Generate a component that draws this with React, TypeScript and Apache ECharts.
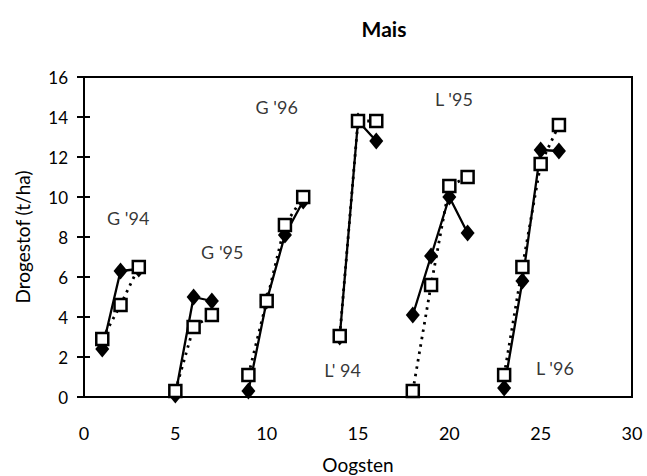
import React, { useEffect, useRef } from "react";
import * as echarts from "echarts";

// Harvest numbers (x) per group
const g94X = [1, 2, 3];
const g94Diamond = [2.4, 6.3, 6.4];
const g94Square = [2.9, 4.6, 6.5];

const g95X = [5, 6, 7];
const g95Diamond = [0.1, 5.0, 4.8];
const g95Square = [0.3, 3.5, 4.1];

const g96X = [9, 10, 11, 12];
const g96Diamond = [0.3, 4.8, 8.1, 9.8];
const g96Square = [1.1, 4.8, 8.6, 10.0];

const l94X = [14, 15, 16];
const l94Diamond = [3.0, 13.8, 12.8];
const l94Square = [3.05, 13.8, 13.8];

const l95X = [18, 19, 20, 21];
const l95Diamond = [4.1, 7.05, 10.0, 8.2];
const l95Square = [0.3, 5.6, 10.55, 11.0];

const l96X = [23, 24, 25, 26];
const l96Diamond = [0.45, 5.8, 12.35, 12.3];
const l96Square = [1.1, 6.5, 11.65, 13.6];

const groupLabels = ["G '94", "G '95", "G '96", "L' 94", "L '95", "L '96"];
const labelX = [2.42, 7.57, 10.55, 14.16, 20.25, 25.78];
const labelY = [8.93, 7.27, 14.5, 1.35, 14.9, 1.43];

const xTicks = [0, 5, 10, 15, 20, 25, 30];
const yTicks = [0, 2, 4, 6, 8, 10, 12, 14, 16];

const FONT = "Lato, 'Open Sans', sans-serif";

const groups = [
  { x: g94X, d: g94Diamond, s: g94Square },
  { x: g95X, d: g95Diamond, s: g95Square },
  { x: g96X, d: g96Diamond, s: g96Square },
  { x: l94X, d: l94Diamond, s: l94Square },
  { x: l95X, d: l95Diamond, s: l95Square },
  { x: l96X, d: l96Diamond, s: l96Square },
];

export default function App() {
  const ref = useRef<HTMLDivElement>(null);
  useEffect(() => {
    if (!ref.current) return;
    const chart = echarts.init(ref.current, null, { renderer: "svg" });
    const series: any[] = [];
    groups.forEach((g) => {
      series.push({
        type: "line",
        data: g.x.map((x, i) => [x, g.d[i]]),
        symbol: "diamond",
        symbolSize: [14, 17],
        itemStyle: { color: "#000" },
        lineStyle: { color: "#000", width: 2.3, type: "solid" },
        z: 2,
      });
    });
    groups.forEach((g) => {
      series.push({
        type: "line",
        data: g.x.map((x, i) => [x, g.s[i]]),
        symbol: "rect",
        symbolSize: 12,
        itemStyle: { color: "#fff", borderColor: "#000", borderWidth: 2.5 },
        lineStyle: { color: "#000", width: 2.8, type: [2.5, 5] },
        z: 3,
      });
    });
    series.push({
      type: "scatter",
      data: groupLabels.map((n, i) => ({ name: n, value: [labelX[i], labelY[i]] })),
      symbolSize: 0,
      label: {
        show: true,
        position: "inside",
        formatter: (p: any) => p.name,
        fontFamily: FONT,
        fontSize: 18,
        color: "#000",
      },
      z: 4,
    });

    chart.setOption({
      animation: false,
      title: {
        text: "Mais",
        left: 379,
        top: 13,
        textAlign: "center",
        textStyle: { fontFamily: FONT, fontSize: 21, fontWeight: "bold", color: "#000" },
      },
      grid: {
        left: 84,
        right: 15,
        top: 77,
        bottom: 79,
        outerBoundsMode: "none",
        containLabel: false,
        show: true,
        borderColor: "#000",
        borderWidth: 2,
        backgroundColor: "transparent",
      },
      xAxis: {
        type: "value",
        min: xTicks[0],
        max: xTicks[xTicks.length - 1],
        interval: 5,
        name: "Oogsten",
        nameLocation: "middle",
        nameGap: 58,
        nameTextStyle: { fontFamily: FONT, fontSize: 19, color: "#000" },
        axisLine: { show: true, lineStyle: { color: "#000", width: 2 } },
        axisTick: { show: false },
        splitLine: { show: false },
        axisLabel: { fontFamily: FONT, fontSize: 18, color: "#000", margin: 27 },
      },
      yAxis: [
        {
          type: "value",
          min: yTicks[0],
          max: yTicks[yTicks.length - 1],
          interval: 2,
          name: "Drogestof (t/ha)",
          nameLocation: "middle",
          nameGap: 52,
          nameTextStyle: { fontFamily: FONT, fontSize: 19, color: "#000" },
          axisLine: { show: true, lineStyle: { color: "#000", width: 2 } },
          axisTick: { show: true, length: 7, lineStyle: { color: "#000", width: 2 } },
          splitLine: { show: false },
          axisLabel: { fontFamily: FONT, fontSize: 17, color: "#000", margin: 16 },
        },
        {
          type: "value",
          position: "left",
          min: yTicks[0],
          max: yTicks[yTicks.length - 1],
          interval: 2,
          axisLine: { show: false },
          axisTick: { show: true, inside: true, length: 6, lineStyle: { color: "#000", width: 2 } },
          axisLabel: { show: false },
          splitLine: { show: false },
        },
      ],
      series,
    });
    return () => chart.dispose();
  }, []);
  return <div ref={ref} style={{ width: 647, height: 476, position: "absolute", left: 0, top: 0, background: "#fff" }} />;
}
